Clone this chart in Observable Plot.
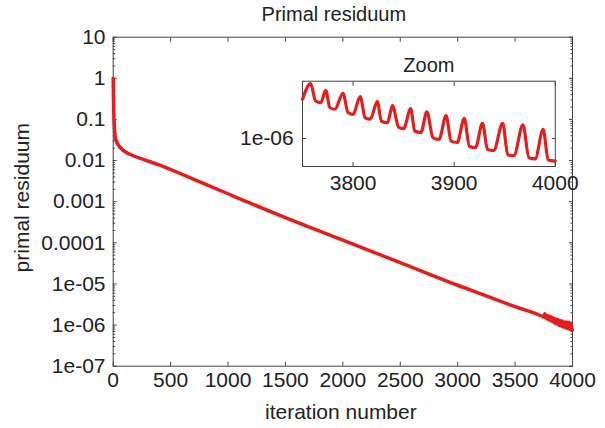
<!DOCTYPE html>
<html><head><meta charset="utf-8">
<script src="https://cdn.jsdelivr.net/npm/d3@7"></script>
<script src="https://cdn.jsdelivr.net/npm/@observablehq/plot@0.6"></script>
<style>
body{margin:0;background:#fff;}
#wrap{position:relative;width:605px;height:428px;font-family:"Liberation Sans",Arial,sans-serif;}
#main{position:absolute;left:0;top:0;}
#inset{position:absolute;left:241.5px;top:50px;}
</style></head><body>
<div id="wrap"><div id="main"></div><div id="inset"></div></div>
<script>
const title = "Primal residuum";
const xLabel = "iteration number";
const yLabel = "primal residuum";
const insetTitle = "Zoom";

const xTicks = [0, 500, 1000, 1500, 2000, 2500, 3000, 3500, 4000];
const yTicks = [10, 1, 0.1, 0.01, 0.001, 0.0001, 1e-5, 1e-6, 1e-7];
const yTickLabels = ["10", "1", "0.1", "0.01", "0.001", "0.0001", "1e-05", "1e-06", "1e-07"];

const mainIter  = [0, 2, 5, 10, 20, 64, 151, 267, 412, 557, 702, 847, 1000, 1193, 1500, 2000, 2500, 2938, 3000, 3500, 3740];
const mainValue = [1.0, 0.4, 0.15, 0.075, 0.034, 0.0204, 0.014, 0.0106, 0.0076, 0.0052, 0.00351, 0.00237, 0.00156, 0.00092, 0.00041, 0.000116, 0.000033, 0.0000108, 0.0000093, 0.0000028, 0.00000162];

const insetIter  = [3750, 3758, 3763, 3768, 3773, 3777, 3782, 3790, 3795, 3800, 3807, 3812, 3817, 3824, 3828, 3834, 3839, 3845, 3850, 3857, 3861, 3867, 3873, 3879, 3885, 3892, 3897, 3903, 3910, 3915, 3921, 3928, 3933, 3939, 3948, 3953, 3959, 3968, 3974, 3980, 3988, 3993, 4000];
const insetValue = [1.57e-6, 1.88e-6, 1.54e-6, 1.51e-6, 1.74e-6, 1.43e-6, 1.40e-6, 1.68e-6, 1.35e-6, 1.32e-6, 1.62e-6, 1.27e-6, 1.25e-6, 1.53e-6, 1.22e-6, 1.20e-6, 1.46e-6, 1.14e-6, 1.12e-6, 1.41e-6, 1.09e-6, 1.07e-6, 1.36e-6, 1.01e-6, 0.99e-6, 1.30e-6, 0.97e-6, 0.955e-6, 1.26e-6, 0.915e-6, 0.90e-6, 1.19e-6, 0.88e-6, 0.87e-6, 1.19e-6, 0.83e-6, 0.82e-6, 1.17e-6, 0.80e-6, 0.79e-6, 1.11e-6, 0.78e-6, 0.77e-6];

const insetXTicks = [3800, 3900, 4000];
const insetYTicks = [1e-6];
const insetYTickLabels = ["1e-06"];

const RED = "#e41e1e";
const INK = "#222";
const AX = "#444";
const FONT = '"Liberation Sans", Arial, sans-serif';

const minorY = [];
for (let i = 1; i < yTicks.length; i++) for (let k = 2; k <= 9; k++) minorY.push(yTicks[i] * k);

const mainData = mainIter.map((x, i) => ({x, y: mainValue[i]}))
  .concat(insetIter.map((x, i) => ({x, y: insetValue[i]})));
const insetData = insetIter.map((x, i) => ({x, y: insetValue[i]}));

const blank = () => "";

const main = Plot.plot({
  width: 605, height: 428,
  marginLeft: 112.7, marginRight: 33, marginTop: 36.7, marginBottom: 62.3,
  style: {fontFamily: FONT, fontSize: "21px", color: INK, background: "transparent", overflow: "visible"},
  x: {domain: [0, 4000]},
  y: {type: "log", domain: [1e-7, 10]},
  marks: [
    Plot.axisX({ticks: xTicks, tickSize: -4, tickPadding: 10, tickFormat: d => String(d), label: null, stroke: AX}),
    Plot.axisX({anchor: "top", ticks: xTicks, tickSize: -4, tickFormat: blank, label: null, stroke: AX}),
    Plot.axisY({ticks: yTicks, tickSize: -4, tickPadding: 11.7, tickFormat: v => yTickLabels[yTicks.indexOf(v)], label: null, stroke: AX}),
    Plot.axisY({ticks: minorY, tickSize: -2.5, tickFormat: blank, label: null, stroke: AX}),
    Plot.axisY({anchor: "right", ticks: yTicks, tickSize: -4, tickFormat: blank, label: null, stroke: AX}),
    Plot.axisY({anchor: "right", ticks: minorY, tickSize: -2.5, tickFormat: blank, label: null, stroke: AX}),
    Plot.frame({stroke: AX}),
    Plot.line(mainData, {x: "x", y: "y", stroke: RED, strokeWidth: 3.5, curve: "monotone-x"}),
    Plot.text([title], {text: d => d, frameAnchor: "top", dx: -9, dy: -22.5, textAnchor: "middle", lineAnchor: "middle", fontSize: 20, fill: INK}),
    Plot.text([xLabel], {text: d => d, frameAnchor: "bottom", dx: -2, dy: 46, textAnchor: "middle", lineAnchor: "middle", fontSize: 21, fill: INK}),
    Plot.text([yLabel], {text: d => d, frameAnchor: "left", dx: -90.7, dy: -4, rotate: -90, textAnchor: "middle", lineAnchor: "middle", fontSize: 21, fill: INK})
  ]
});
document.getElementById("main").append(main);

const inset = Plot.plot({
  width: 342.8, height: 141,
  marginLeft: 60, marginRight: 30, marginTop: 30.7, marginBottom: 25,
  style: {fontFamily: FONT, fontSize: "21px", color: INK, background: "transparent", overflow: "visible"},
  x: {domain: [3750, 4000]},
  y: {type: "log", domain: [7.244e-7, 1.934e-6]},
  marks: [
    Plot.axisX({ticks: insetXTicks, tickSize: -4, tickPadding: 13, tickFormat: d => String(d), label: null, stroke: AX}),
    Plot.axisX({anchor: "top", ticks: insetXTicks, tickSize: -4, tickFormat: blank, label: null, stroke: AX}),
    Plot.axisY({ticks: insetYTicks, tickSize: -4, tickPadding: 12.8, tickFormat: v => insetYTickLabels[insetYTicks.indexOf(v)], label: null, stroke: AX}),
    Plot.axisY({anchor: "right", ticks: insetYTicks, tickSize: -4, tickFormat: blank, label: null, stroke: AX}),
    Plot.frame({stroke: AX}),
    Plot.line(insetData, {x: "x", y: "y", stroke: RED, strokeWidth: 3.2, curve: "monotone-x"}),
    Plot.text([insetTitle], {text: d => d, frameAnchor: "top", dy: -15.5, textAnchor: "middle", lineAnchor: "middle", fontSize: 20, fill: INK})
  ]
});
document.getElementById("inset").append(inset);
</script>
</body></html>
